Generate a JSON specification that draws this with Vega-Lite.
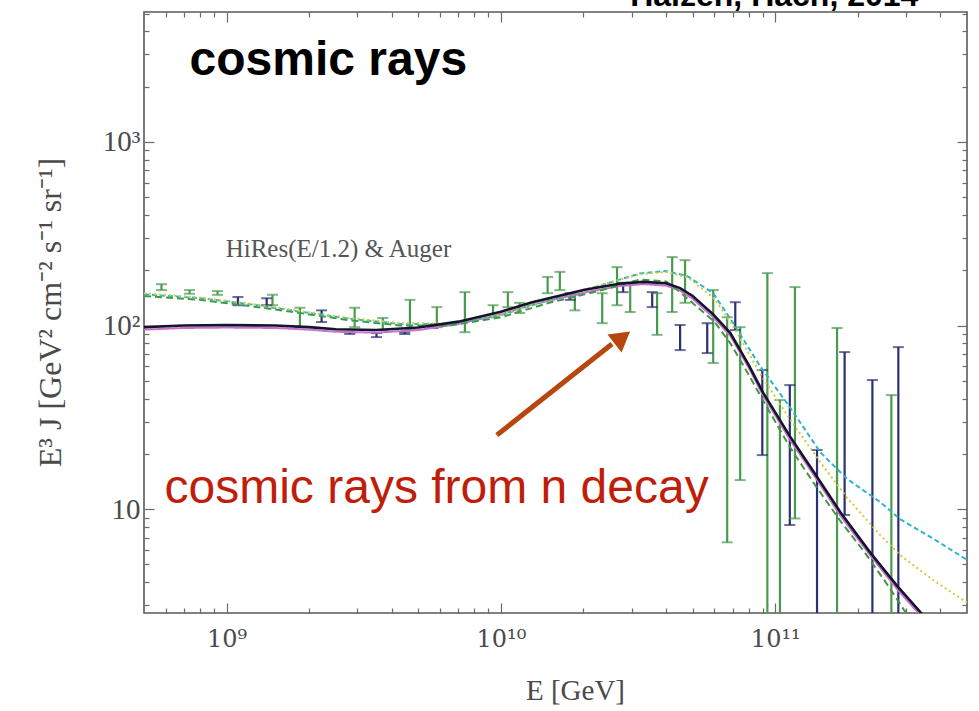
{
 "$schema": "https://vega.github.io/schema/vega-lite/v6.json",
 "width": 823,
 "height": 601,
 "autosize": {"type": "none"},
 "padding": {"left": 144, "top": 12, "right": 12, "bottom": 98},
 "background": "white",
 "config": {
   "view": {"stroke": "#5a5a5a", "strokeWidth": 1.6},
   "axis": {"grid": false, "domain": false, "tickColor": "#6a6a6a", "tickWidth": 1.2, "labelFont": "Liberation Serif", "titleFont": "Liberation Serif", "labelColor": "#4a4a4a", "titleColor": "#4a4a4a", "labelFontSize": 29, "titleFontSize": 29, "titleFontWeight": "normal"}
 },
 "datasets": {
   "bars": [
     {"series":"Auger","E":5.79e8,"lo":156,"hi":168},
     {"series":"Auger","E":7.33e8,"lo":149,"hi":156},
     {"series":"Auger","E":9.27e8,"lo":147,"hi":154},
     {"series":"Auger","E":1.47e9,"lo":129,"hi":147},
     {"series":"Auger","E":1.85e9,"lo":98,"hi":125},
     {"series":"Auger","E":2.93e9,"lo":98,"hi":125},
     {"series":"Auger","E":3.71e9,"lo":94.5,"hi":110},
     {"series":"Auger","E":4.66e9,"lo":94.5,"hi":138},
     {"series":"Auger","E":5.84e9,"lo":98,"hi":126},
     {"series":"Auger","E":7.39e9,"lo":92,"hi":152},
     {"series":"Auger","E":9.36e9,"lo":111,"hi":129},
     {"series":"Auger","E":1.06e10,"lo":126,"hi":152},
     {"series":"Auger","E":1.17e10,"lo":117,"hi":133},
     {"series":"Auger","E":1.48e10,"lo":150,"hi":184},
     {"series":"Auger","E":1.64e10,"lo":156,"hi":196},
     {"series":"Auger","E":1.86e10,"lo":121,"hi":147},
     {"series":"Auger","E":2.34e10,"lo":103,"hi":150},
     {"series":"Auger","E":2.65e10,"lo":129,"hi":208},
     {"series":"Auger","E":2.96e10,"lo":118.5,"hi":171},
     {"series":"Auger","E":3.71e10,"lo":89,"hi":150},
     {"series":"Auger","E":4.21e10,"lo":118.5,"hi":236},
     {"series":"Auger","E":4.69e10,"lo":133,"hi":227},
     {"series":"Auger","E":5.94e10,"lo":62.5,"hi":156},
     {"series":"Auger","E":6.68e10,"lo":6.6,"hi":111},
     {"series":"Auger","E":7.45e10,"lo":14.4,"hi":98},
     {"series":"Auger","E":9.36e10,"lo":1,"hi":193},
     {"series":"Auger","E":1.04e11,"lo":1,"hi":39.3},
     {"series":"Auger","E":1.18e11,"lo":8.9,"hi":162},
     {"series":"Auger","E":1.68e11,"lo":1,"hi":97},
     {"series":"Auger","E":2.65e11,"lo":1,"hi":41.8},
     {"series":"HiRes","E":1.10e9,"lo":129,"hi":143},
     {"series":"HiRes","E":1.40e9,"lo":129,"hi":141},
     {"series":"HiRes","E":2.22e9,"lo":104.5,"hi":121},
     {"series":"HiRes","E":2.81e9,"lo":90,"hi":92},
     {"series":"HiRes","E":3.52e9,"lo":86.5,"hi":91},
     {"series":"HiRes","E":4.46e9,"lo":90,"hi":92},
     {"series":"HiRes","E":5.65e9,"lo":97,"hi":101},
     {"series":"HiRes","E":1.79e10,"lo":138,"hi":150},
     {"series":"HiRes","E":2.79e10,"lo":152,"hi":171},
     {"series":"HiRes","E":3.56e10,"lo":126,"hi":152},
     {"series":"HiRes","E":4.50e10,"lo":73.5,"hi":100.7},
     {"series":"HiRes","E":5.65e10,"lo":70.8,"hi":103},
     {"series":"HiRes","E":7.15e10,"lo":94.5,"hi":134},
     {"series":"HiRes","E":8.97e10,"lo":19.7,"hi":57.2},
     {"series":"HiRes","E":1.13e11,"lo":8.2,"hi":47.4},
     {"series":"HiRes","E":1.42e11,"lo":1,"hi":21},
     {"series":"HiRes","E":1.79e11,"lo":9.3,"hi":71.7},
     {"series":"HiRes","E":2.26e11,"lo":1,"hi":50.5},
     {"series":"HiRes","E":2.81e11,"lo":1,"hi":76.3}
   ],
   "curves": [
     {"series":"fit","E":5e8,"F":98},{"series":"fit","E":7e8,"F":100},{"series":"fit","E":1e9,"F":100.5},{"series":"fit","E":1.5e9,"F":100},{"series":"fit","E":2e9,"F":98},{"series":"fit","E":2.5e9,"F":95.5},{"series":"fit","E":3.5e9,"F":94.5},{"series":"fit","E":5e9,"F":97.5},{"series":"fit","E":7e9,"F":105},{"series":"fit","E":1e10,"F":119},{"series":"fit","E":1.3e10,"F":134},{"series":"fit","E":2e10,"F":156},{"series":"fit","E":2.7e10,"F":169},{"series":"fit","E":3.3e10,"F":173},{"series":"fit","E":4e10,"F":170},{"series":"fit","E":4.5e10,"F":160},{"series":"fit","E":5e10,"F":145},{"series":"fit","E":5.94e10,"F":115},{"series":"fit","E":6.86e10,"F":91},{"series":"fit","E":8e10,"F":61},{"series":"fit","E":9.04e10,"F":43},{"series":"fit","E":1.13e11,"F":25},{"series":"fit","E":1.38e11,"F":16},{"series":"fit","E":1.73e11,"F":9.6},{"series":"fit","E":2.22e11,"F":5.8},{"series":"fit","E":2.79e11,"F":3.8},{"series":"fit","E":3.38e11,"F":2.75},{"series":"fit","E":3.8e11,"F":2.3},
     {"series":"fit2","E":5e8,"F":95},{"series":"fit2","E":7e8,"F":97},{"series":"fit2","E":1e9,"F":97.5},{"series":"fit2","E":1.5e9,"F":97},{"series":"fit2","E":2e9,"F":95},{"series":"fit2","E":2.5e9,"F":92.5},{"series":"fit2","E":3.5e9,"F":91.5},{"series":"fit2","E":5e9,"F":94.5},{"series":"fit2","E":7e9,"F":102},{"series":"fit2","E":1e10,"F":115},{"series":"fit2","E":1.3e10,"F":130},{"series":"fit2","E":2e10,"F":151},{"series":"fit2","E":2.7e10,"F":164},{"series":"fit2","E":3.3e10,"F":168},{"series":"fit2","E":4e10,"F":165},{"series":"fit2","E":4.5e10,"F":155},{"series":"fit2","E":5e10,"F":140},{"series":"fit2","E":5.94e10,"F":111},{"series":"fit2","E":6.86e10,"F":88},{"series":"fit2","E":8e10,"F":59},{"series":"fit2","E":9.04e10,"F":41.5},{"series":"fit2","E":1.13e11,"F":24},{"series":"fit2","E":1.38e11,"F":15.4},{"series":"fit2","E":1.73e11,"F":9.2},{"series":"fit2","E":2.22e11,"F":5.6},{"series":"fit2","E":2.79e11,"F":3.65},{"series":"fit2","E":3.38e11,"F":2.65},{"series":"fit2","E":3.8e11,"F":2.2},
     {"series":"fitA","E":5e8,"F":145},{"series":"fitA","E":8e8,"F":138},{"series":"fitA","E":1.2e9,"F":128},{"series":"fitA","E":1.85e9,"F":117},{"series":"fitA","E":2.8e9,"F":107},{"series":"fitA","E":4.3e9,"F":100},{"series":"fitA","E":6.5e9,"F":100},{"series":"fitA","E":1e10,"F":111},{"series":"fitA","E":1.5e10,"F":133},{"series":"fitA","E":2.3e10,"F":155},{"series":"fitA","E":3.2e10,"F":178},{"series":"fitA","E":4e10,"F":174},{"series":"fitA","E":4.5e10,"F":152},{"series":"fitA","E":5.2e10,"F":126},{"series":"fitA","E":6e10,"F":105},{"series":"fitA","E":6.86e10,"F":80},{"series":"fitA","E":8e10,"F":54},{"series":"fitA","E":9.04e10,"F":39},{"series":"fitA","E":1.13e11,"F":21.8},{"series":"fitA","E":1.38e11,"F":13.9},{"series":"fitA","E":1.72e11,"F":8.7},{"series":"fitA","E":2.13e11,"F":5.75},{"series":"fitA","E":2.6e11,"F":3.76},{"series":"fitA","E":2.95e11,"F":2.82},{"series":"fitA","E":3.4e11,"F":2.2},
     {"series":"fitB","E":5e8,"F":148},{"series":"fitB","E":8e8,"F":141},{"series":"fitB","E":1.2e9,"F":131},{"series":"fitB","E":1.85e9,"F":119},{"series":"fitB","E":2.8e9,"F":109},{"series":"fitB","E":4.3e9,"F":102},{"series":"fitB","E":6.5e9,"F":102},{"series":"fitB","E":1e10,"F":114},{"series":"fitB","E":1.5e10,"F":138},{"series":"fitB","E":2.3e10,"F":165},{"series":"fitB","E":3.2e10,"F":192},{"series":"fitB","E":4e10,"F":198},{"series":"fitB","E":4.78e10,"F":186},{"series":"fitB","E":5.94e10,"F":150},{"series":"fitB","E":7e10,"F":104},{"series":"fitB","E":8.81e10,"F":60},{"series":"fitB","E":1.13e11,"F":36},{"series":"fitB","E":1.46e11,"F":20.4},{"series":"fitB","E":1.83e11,"F":14.6},{"series":"fitB","E":2.42e11,"F":10.9},{"series":"fitB","E":2.86e11,"F":8.8},{"series":"fitB","E":3.77e11,"F":6.9},{"series":"fitB","E":5e11,"F":5.3},
     {"series":"fitC","E":5e8,"F":150},{"series":"fitC","E":8e8,"F":142},{"series":"fitC","E":1.2e9,"F":132},{"series":"fitC","E":1.85e9,"F":120},{"series":"fitC","E":2.8e9,"F":110},{"series":"fitC","E":4.3e9,"F":103},{"series":"fitC","E":6.5e9,"F":103},{"series":"fitC","E":1e10,"F":115},{"series":"fitC","E":1.5e10,"F":139},{"series":"fitC","E":2.3e10,"F":166},{"series":"fitC","E":3.2e10,"F":190},{"series":"fitC","E":4e10,"F":196},{"series":"fitC","E":4.8e10,"F":183},{"series":"fitC","E":6e10,"F":140},{"series":"fitC","E":7e10,"F":100},{"series":"fitC","E":9e10,"F":52},{"series":"fitC","E":1.13e11,"F":31},{"series":"fitC","E":1.46e11,"F":18},{"series":"fitC","E":1.83e11,"F":11.5},{"series":"fitC","E":2.42e11,"F":7.2},{"series":"fitC","E":2.86e11,"F":5.6},{"series":"fitC","E":3.77e11,"F":4.1},{"series":"fitC","E":5e11,"F":3.1}
   ]
 },
 "resolve": {"axis": {"x": "independent", "y": "independent"}},
 "layer": [
   {
     "data": {"name": "bars"},
     "mark": {"type": "rule", "clip": true, "strokeWidth": 2.2},
     "encoding": {
       "x": {"field": "E", "type": "quantitative", "scale": {"type": "log", "domain": [5e8, 5e11], "nice": false},
             "axis": {"orient": "bottom", "values": [1e9, 1e10, 1e11], "tickSize": -10, "labelPadding": 24, "labelFont": "DejaVu Serif", "labelFontSize": 24, "labelExpr": "datum.value == 1e9 ? '10⁹' : datum.value == 1e10 ? '10¹⁰' : '10¹¹'", "title": "E [GeV]", "titleX": 431, "titleY": 77, "titleBaseline": "middle"}},
       "y": {"field": "lo", "type": "quantitative", "scale": {"type": "log", "domain": [2.72, 5100], "nice": false},
             "axis": {"orient": "left", "values": [10, 100, 1000], "tickSize": -10, "labelPadding": 14, "labelExpr": "datum.value == 1000 ? '10³' : datum.value == 100 ? '10²' : '10'", "title": "E³ J [GeV² cm⁻² s⁻¹ sr⁻¹]", "titleFontSize": 32, "titleX": -94, "titleY": 300, "titleAngle": -90, "titleAlign": "center", "titleBaseline": "middle"}},
       "y2": {"field": "hi"},
       "color": {"field": "series", "type": "nominal", "scale": {"domain": ["Auger","HiRes","fit","fit2","fitA","fitB","fitC"], "range": ["#4a9a4e","#2c2f72","#111111","#c870d0","#3f9a3f","#2cb5c9","#d6c83a"]}, "legend": null}
     }
   },
   {
     "data": {"name": "bars"},
     "mark": {"type": "tick", "orient": "horizontal", "size": 11, "thickness": 2, "clip": true},
     "encoding": {
       "x": {"field": "E", "type": "quantitative", "scale": {"type": "log", "domain": [5e8, 5e11], "nice": false},
             "axis": {"orient": "bottom", "values": [6e8,7e8,8e8,9e8,2e9,3e9,4e9,5e9,6e9,7e9,8e9,9e9,2e10,3e10,4e10,5e10,6e10,7e10,8e10,9e10,2e11,3e11,4e11], "tickSize": -5, "labels": false, "title": null}},
       "y": {"field": "lo", "type": "quantitative", "scale": {"type": "log", "domain": [2.72, 5100], "nice": false},
             "axis": {"orient": "left", "values": [3,4,5,6,7,8,9,20,30,40,50,60,70,80,90,200,300,400,500,600,700,800,900,2000,3000,4000,5000], "tickSize": -5, "labels": false, "title": null}},
       "color": {"field": "series", "type": "nominal", "legend": null}
     }
   },
   {
     "data": {"name": "bars"},
     "mark": {"type": "tick", "orient": "horizontal", "size": 11, "thickness": 2, "clip": true},
     "encoding": {
       "x": {"field": "E", "type": "quantitative", "scale": {"type": "log", "domain": [5e8, 5e11], "nice": false},
             "axis": {"orient": "top", "values": [1e9, 1e10, 1e11], "tickSize": -10, "labels": false, "title": null}},
       "y": {"field": "hi", "type": "quantitative", "scale": {"type": "log", "domain": [2.72, 5100], "nice": false},
             "axis": {"orient": "right", "values": [10, 100, 1000], "tickSize": -10, "labels": false, "title": null}},
       "color": {"field": "series", "type": "nominal", "legend": null}
     }
   },
   {
     "data": {"name": "curves"},
     "transform": [{"filter": "datum.series != 'fit'"}],
     "mark": {"type": "line", "clip": true, "strokeWidth": 2},
     "encoding": {
       "x": {"field": "E", "type": "quantitative", "scale": {"type": "log", "domain": [5e8, 5e11], "nice": false},
             "axis": {"orient": "top", "values": [6e8,7e8,8e8,9e8,2e9,3e9,4e9,5e9,6e9,7e9,8e9,9e9,2e10,3e10,4e10,5e10,6e10,7e10,8e10,9e10,2e11,3e11,4e11], "tickSize": -5, "labels": false, "title": null}},
       "y": {"field": "F", "type": "quantitative", "scale": {"type": "log", "domain": [2.72, 5100], "nice": false},
             "axis": {"orient": "right", "values": [3,4,5,6,7,8,9,20,30,40,50,60,70,80,90,200,300,400,500,600,700,800,900,2000,3000,4000,5000], "tickSize": -5, "labels": false, "title": null}},
       "color": {"field": "series", "type": "nominal", "legend": null},
       "strokeDash": {"field": "series", "type": "nominal", "scale": {"domain": ["fit2","fitA","fitB","fitC"], "range": [[1,0],[7,4],[5,3],[2,3]]}, "legend": null}
     }
   },
   {
     "data": {"name": "curves"},
     "transform": [{"filter": "datum.series == 'fit'"}],
     "mark": {"type": "line", "clip": true, "strokeWidth": 2.6, "color": "#15142a"},
     "encoding": {
       "x": {"field": "E", "type": "quantitative", "axis": null},
       "y": {"field": "F", "type": "quantitative", "axis": null}
     }
   },
   {
     "data": {"values": [{"E": 9.66e9, "F": 25.3, "E2": 2.54e10, "F2": 79.3}]},
     "mark": {"type": "rule", "color": "#b8460f", "strokeWidth": 5},
     "encoding": {
       "x": {"field": "E", "type": "quantitative", "axis": null},
       "y": {"field": "F", "type": "quantitative", "axis": null},
       "x2": {"field": "E2"},
       "y2": {"field": "F2"}
     }
   },
   {
     "data": {"values": [{"E": 2.77e10, "F": 86.1}]},
     "mark": {"type": "point", "shape": "triangle-up", "filled": true, "color": "#b8460f", "opacity": 1, "size": 520, "angle": 52},
     "encoding": {
       "x": {"field": "E", "type": "quantitative", "axis": null},
       "y": {"field": "F", "type": "quantitative", "axis": null}
     }
   },
   {
     "data": {"values": [{"label": "cosmic rays", "E": 7.33e8, "F": 2317}]},
     "mark": {"type": "text", "font": "Liberation Sans", "fontWeight": "bold", "fontSize": 48, "align": "left", "baseline": "alphabetic", "color": "#000000"},
     "encoding": {
       "x": {"field": "E", "type": "quantitative", "axis": null},
       "y": {"field": "F", "type": "quantitative", "axis": null},
       "text": {"field": "label"}
     }
   },
   {
     "data": {"values": [{"label": "cosmic rays from n decay", "E": 5.94e8, "F": 10.78}]},
     "mark": {"type": "text", "font": "Liberation Sans", "fontSize": 48, "align": "left", "baseline": "alphabetic", "color": "#bf1e0b"},
     "encoding": {
       "x": {"field": "E", "type": "quantitative", "axis": null},
       "y": {"field": "F", "type": "quantitative", "axis": null},
       "text": {"field": "label"}
     }
   },
   {
     "data": {"values": [{"label": "HiRes(E/1.2) & Auger", "E": 9.92e8, "F": 236}]},
     "mark": {"type": "text", "font": "Liberation Serif", "fontSize": 25, "align": "left", "baseline": "alphabetic", "color": "#555555"},
     "encoding": {
       "x": {"field": "E", "type": "quantitative", "axis": null},
       "y": {"field": "F", "type": "quantitative", "axis": null},
       "text": {"field": "label"}
     }
   },
   {
     "data": {"values": [{"label": "Halzen, Hach, 2014", "E": 2.96e10, "F": 5510}]},
     "mark": {"type": "text", "font": "Liberation Sans", "fontWeight": "bold", "fontSize": 32, "align": "left", "baseline": "alphabetic", "color": "#000000"},
     "encoding": {
       "x": {"field": "E", "type": "quantitative", "axis": null},
       "y": {"field": "F", "type": "quantitative", "axis": null},
       "text": {"field": "label"}
     }
   }
 ]
}
